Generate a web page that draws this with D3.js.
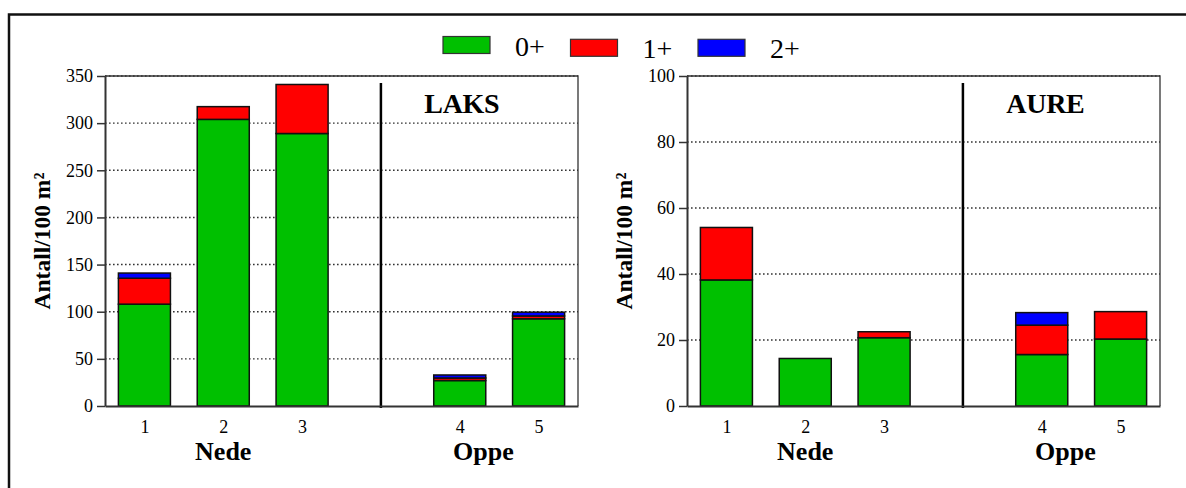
<!DOCTYPE html>
<html>
<head>
<meta charset="utf-8">
<script src="https://cdn.jsdelivr.net/npm/d3@7"></script>
<style>
  body { margin: 0; background: #fff; }
  svg text { font-family: "Liberation Serif", "Times New Roman", serif; fill: #000; }
</style>
</head>
<body>
<svg id="chart" width="1186" height="488"></svg>
<script>
// age classes and their fills
const ageClasses = ['0+', '1+', '2+'];
const ageColors = ['#00c000', '#ff0000', '#0000ff'];

// stations along the river; slot 4 is left empty for the divider
const sites = ['1', '2', '3', '4', '5'];
const siteSlots = [1, 2, 3, 5, 6];
const dividerSlot = 4;
const groupNames = ['Nede', 'Oppe'];
const groupSlots = [2, 5.3];

// Laks (salmon), fish per 100 m2
const laks0 = [108, 304, 289, 27, 92.5];
const laks1 = [27.5, 13.5, 52, 2.7, 3];
const laks2 = [5.5, 0, 0, 3.2, 4];
const laksTicks = [0, 50, 100, 150, 200, 250, 300, 350];

// Aure (trout), fish per 100 m2
const aure0 = [38.2, 14.4, 20.7, 15.6, 20.3];
const aure1 = [15.9, 0, 1.8, 8.9, 8.3];
const aure2 = [0, 0, 0, 3.8, 0];
const aureTicks = [0, 20, 40, 60, 80, 100];

const svg = d3.select('#chart');

// outer frame (runs off the right and bottom edges)
svg.append('rect')
  .attr('x', 9).attr('y', 14.5)
  .attr('width', 1300).attr('height', 600)
  .attr('fill', 'none')
  .attr('stroke', '#111')
  .attr('stroke-width', 2.5);

function drawPanel(opts) {
  const margin = { top: 76, bottom: 406 };
  const x = d3.scaleLinear().domain([0.5, 6.5]).range([opts.left, opts.right]);
  const y = d3.scaleLinear().domain([0, d3.max(opts.ticks)]).range([margin.bottom, margin.top]);
  const step = x(2) - x(1);
  const barW = step * 0.66;

  const g = svg.append('g');

  // dotted grid
  g.append('g')
    .selectAll('line')
    .data(opts.ticks.filter(t => t > 0))
    .join('line')
      .attr('x1', opts.left).attr('x2', opts.right)
      .attr('y1', d => y(d)).attr('y2', d => y(d))
      .attr('stroke', '#333')
      .attr('stroke-width', 1.4)
      .attr('stroke-dasharray', '1.6,2.4');

  // frame top and right
  g.append('path')
    .attr('d', `M${opts.left},${margin.top}H${opts.right}V${margin.bottom}`)
    .attr('fill', 'none')
    .attr('stroke', '#333')
    .attr('stroke-width', 1.3);

  // stacked bars
  const rows = sites.map((s, i) => ({
    slot: siteSlots[i], '0+': opts.values[0][i], '1+': opts.values[1][i], '2+': opts.values[2][i]
  }));
  const stacked = d3.stack().keys(ageClasses)(rows);

  g.append('g')
    .selectAll('g')
    .data(stacked)
    .join('g')
      .attr('fill', (d, i) => ageColors[i])
    .selectAll('rect')
    .data(d => d.filter(p => p[1] - p[0] > 0))
    .join('rect')
      .attr('x', d => x(d.data.slot) - barW / 2)
      .attr('width', barW)
      .attr('y', d => y(d[1]))
      .attr('height', d => y(d[0]) - y(d[1]))
      .attr('stroke', '#111')
      .attr('stroke-width', 1.5);

  // divider between lower and upper stations
  g.append('line')
    .attr('x1', x(dividerSlot)).attr('x2', x(dividerSlot))
    .attr('y1', 83).attr('y2', 408)
    .attr('stroke', '#000')
    .attr('stroke-width', 2.5);

  // y axis
  const yAxis = g.append('g')
    .attr('transform', `translate(${opts.left},0)`)
    .call(d3.axisLeft(y).tickValues(opts.ticks).tickSize(8).tickPadding(4).tickSizeOuter(0));
  yAxis.select('.domain').attr('stroke', '#333').attr('stroke-width', 2);
  yAxis.selectAll('.tick line').attr('stroke', '#333').attr('stroke-width', 1.5);
  yAxis.selectAll('.tick text')
    .attr('font-size', 18)
    .attr('font-family', '"Liberation Serif", serif');

  // x axis
  const xAxis = g.append('g')
    .attr('transform', `translate(0,${margin.bottom})`)
    .call(d3.axisBottom(x).tickValues(siteSlots).tickFormat((d, i) => sites[i])
      .tickSize(0).tickPadding(14).tickSizeOuter(0));
  xAxis.select('.domain').attr('stroke', '#333').attr('stroke-width', 2);
  xAxis.selectAll('.tick text')
    .attr('font-size', 18)
    .attr('font-family', '"Liberation Serif", serif');

  // group labels
  g.append('g')
    .selectAll('text')
    .data(groupNames)
    .join('text')
      .attr('x', (d, i) => x(groupSlots[i]))
      .attr('y', 460)
      .attr('text-anchor', 'middle')
      .attr('font-size', 26)
      .attr('font-weight', 'bold')
      .text(d => d);

  // y label
  g.append('text')
    .attr('transform', `translate(${opts.left - 55},${(margin.top + margin.bottom) / 2}) rotate(-90)`)
    .attr('text-anchor', 'middle')
    .attr('font-size', 23.5)
    .attr('font-weight', 'bold')
    .text('Antall/100 m²');

  // species title
  g.append('text')
    .attr('x', x(dividerSlot + 0.5) + 4)
    .attr('y', 113)
    .attr('font-size', 28)
    .attr('font-weight', 'bold')
    .attr('letter-spacing', -0.3)
    .text(opts.title);
}

drawPanel({ left: 105, right: 578, ticks: laksTicks, values: [laks0, laks1, laks2], title: 'LAKS' });
drawPanel({ left: 687, right: 1160, ticks: aureTicks, values: [aure0, aure1, aure2], title: 'AURE' });

// legend
const legend = svg.append('g')
  .selectAll('g')
  .data(ageClasses)
  .join('g')
    .attr('transform', (d, i) => `translate(${443 + i * 127.5},${i === 0 ? 36.5 : 39.3})`);

legend.append('rect')
  .attr('width', 47)
  .attr('height', 17)
  .attr('fill', (d, i) => ageColors[i])
  .attr('stroke', '#333')
  .attr('stroke-width', 1.2);

legend.append('text')
  .attr('x', 72)
  .attr('y', 19)
  .attr('font-size', 28)
  .text(d => d);
</script>
</body>
</html>
